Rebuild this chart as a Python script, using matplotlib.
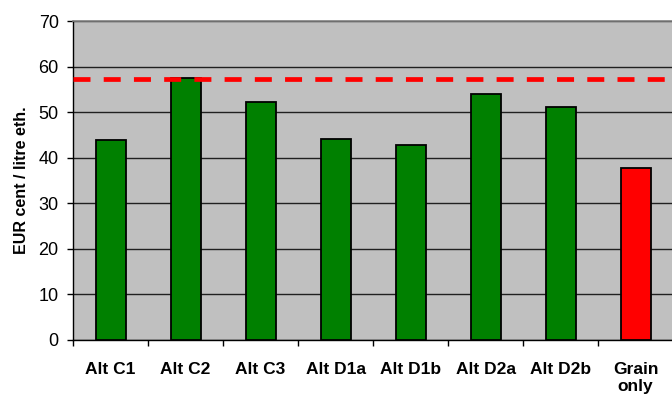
import matplotlib
matplotlib.use("Agg")
from matplotlib import pyplot as plt
from matplotlib.ticker import FixedLocator

plt.rcParams['font.family'] = ['Liberation Sans', 'DejaVu Sans']

categories = ['Alt C1', 'Alt C2', 'Alt C3', 'Alt D1a', 'Alt D1b',
              'Alt D2a', 'Alt D2b', 'Grain\nonly']
costs = [43.8, 57.5, 52.1, 44.0, 42.7, 54.0, 51.2, 37.7]
bar_colors = ['#008000'] * 7 + ['#FF0000']
reference_cost = 57.3

fig = plt.figure(figsize=(6.72, 3.99), dpi=100)
ax = fig.add_axes([73 / 672, 1 - 339.7 / 399, 600 / 672, (339.7 - 21) / 399])
ax.set_facecolor('#C0C0C0')

xs = list(range(len(categories)))
ax.bar(xs, costs, width=0.4, color=bar_colors, edgecolor='black',
       linewidth=1.3, zorder=3)

# reference cost level
ax.axhline(reference_cost, color='#FF0000', linewidth=3.4,
           dashes=(3.6, 2.8), zorder=4)

ax.set_xlim(-0.5, len(categories) - 0.5)
ax.set_ylim(0, 70)
ax.set_yticks(range(0, 71, 10))
ax.yaxis.grid(True, color='#202020', linewidth=1.0, zorder=0)
ax.set_axisbelow(True)

ax.set_xticks(xs)
ax.set_xticklabels(categories, fontsize=12.5, fontweight='bold',
                   linespacing=1.2, va='top')
ax.xaxis.set_minor_locator(FixedLocator([x - 0.5 for x in xs]))
ax.tick_params(axis='x', which='major', length=0, pad=16)
ax.tick_params(axis='x', which='minor', length=4.3, width=1)
ax.tick_params(axis='y', length=4.3, width=1, pad=6, labelsize=13)

ax.set_ylabel('EUR cent / litre eth.', fontsize=11.5, fontweight='bold',
              labelpad=7)

for side in ['left', 'bottom']:
    ax.spines[side].set_color('black')
    ax.spines[side].set_linewidth(1.0)
ax.spines['top'].set_color('#808080')
ax.spines['top'].set_linewidth(1.2)
ax.spines['right'].set_visible(False)

fig.savefig('out.png', dpi=100)
